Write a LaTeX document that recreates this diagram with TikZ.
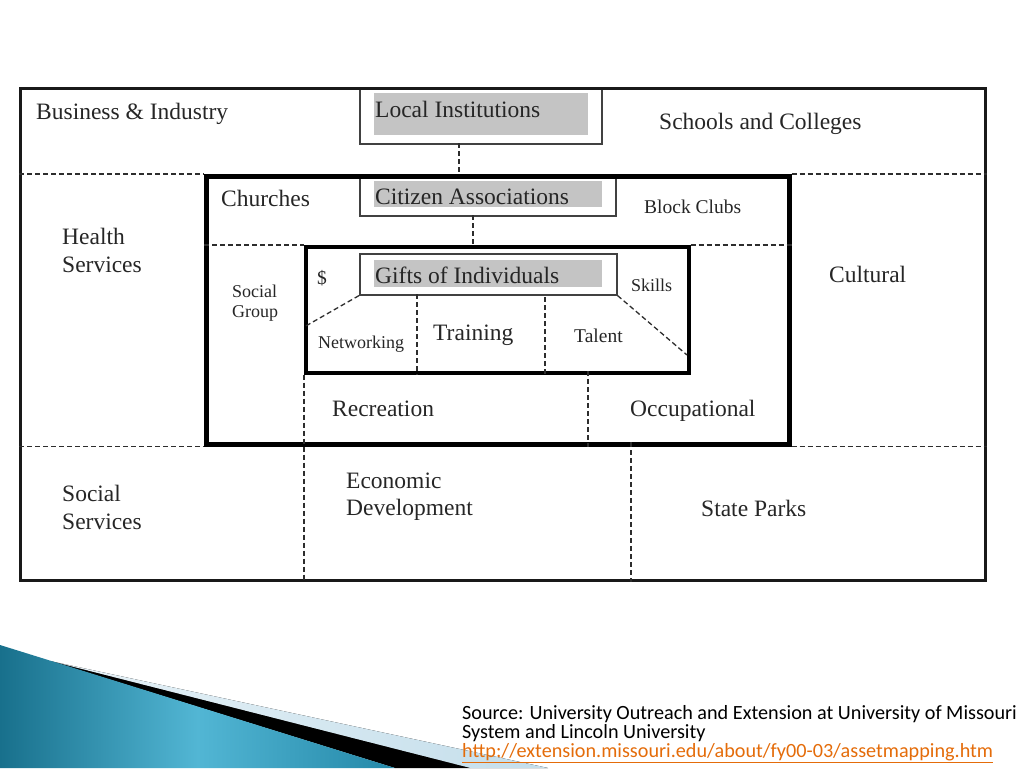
\documentclass[tikz,border=0pt]{standalone}
\usepackage{fontspec}
\setmainfont{Liberation Serif}
\newfontfamily\srcfont{Carlito}
\usepackage{tikz}
\usepackage{xcolor}
\usetikzlibrary{positioning}
\definecolor{halftone}{RGB}{196,196,196}
\definecolor{boxgray}{RGB}{65,65,65}
\definecolor{dashgray}{RGB}{45,45,45}
\definecolor{tealdark}{RGB}{24,112,140}
\definecolor{teallight}{RGB}{82,182,212}
\definecolor{tealmid}{RGB}{36,136,168}
\definecolor{paleblue}{RGB}{196,222,235}
\definecolor{linkorange}{RGB}{228,108,10}

\begin{document}
\begin{tikzpicture}[x=1pt, y=-1pt,
    outerbox/.style={rectangle, draw=black!90, line width=2.5pt, inner sep=0pt, anchor=north west},
    ringbox/.style={rectangle, draw=black, line width=4.5pt, inner sep=0pt, anchor=north west},
    corebox/.style={rectangle, draw=black, line width=3.5pt, inner sep=0pt, anchor=north west},
    labelbox/.style={rectangle, draw=boxgray, fill=white, line width=1.6pt, inner sep=0pt, anchor=north west},
    shadefill/.style={rectangle, fill=halftone, inner sep=0pt, anchor=north west},
    bigtxt/.style={font=\fontsize{23.5}{26}\selectfont, inner sep=0pt, anchor=base west, text=black!85},
    midtxt/.style={font=\fontsize{19.5}{22}\selectfont, inner sep=0pt, anchor=base west, text=black!85},
    smalltxt/.style={font=\fontsize{18}{20}\selectfont, inner sep=0pt, anchor=base west, text=black!85},
    srctxt/.style={font=\srcfont\fontsize{20.2}{19}\selectfont, inner sep=0pt, anchor=base west},
    dashline/.style={draw=dashgray, line width=1.3pt, dash pattern=on 5pt off 3pt}
]
\useasboundingbox (0,0) rectangle (1024,768);

% ========== DECORACION ==========
\fill[left color=paleblue!40, right color=paleblue] (50,661) -- (548,768) -- (470,768) -- cycle;
\fill[black] (50,661) -- (470,768) -- (395,768) -- cycle;
\shade[left color=tealdark, right color=tealmid, middle color=teallight] (0,645) -- (395,768) -- (0,768) -- cycle;

% ========== CAJAS ==========
\node[labelbox, minimum width=242, minimum height=56] (locinst) at (359,87) {};
\node[shadefill, minimum width=214, minimum height=42] (locfill) at (374,93) {};
\node[labelbox, minimum width=256, minimum height=41] (citizen) at (359,174) {};
\node[shadefill, minimum width=228, minimum height=26] (citfill) at (374,181) {};
\node[labelbox, minimum width=257, minimum height=41] (gifts) at (359,253) {};
\node[shadefill, minimum width=228, minimum height=27] (giftfill) at (374,260) {};

\node[outerbox, minimum width=965, minimum height=492] (frame) at (19,87) {};
\node[ringbox, minimum width=583, minimum height=268] (civic) at (204,174) {};
\node[corebox, minimum width=383, minimum height=126] (core) at (304,245) {};

% ========== LINEAS DISCONTINUAS ==========
\coordinate (li-tap) at (459,143);
\coordinate (ca-tap) at (473,215);
\coordinate (net-end) at (304,327);
\coordinate (skill-end) at (687,355);
\coordinate (train-tap) at (417,294);
\coordinate (talent-tap) at (545,297);
\coordinate (occ-tap) at (588,371);
\coordinate (park-tap) at (631,442);

\draw[dashline] (li-tap) -- (li-tap |- civic.north);
\draw[dashline] (ca-tap) -- (ca-tap |- core.north);
\draw[dashline] (frame.west |- civic.north) -- (civic.north west);
\draw[dashline] (civic.north east) -- (frame.east |- civic.north);
\draw[dashline] (frame.west |- civic.south) -- (civic.south west);
\draw[dashline] (civic.south east) -- (frame.east |- civic.south);
\draw[dashline] (civic.west |- core.north) -- (core.north west);
\draw[dashline] (core.north east) -- (civic.east |- core.north);
\draw[dashline] (gifts.south west) -- (net-end);
\draw[dashline] (gifts.south east) -- (skill-end);
\draw[dashline] (train-tap) -- (train-tap |- core.south);
\draw[dashline] (talent-tap) -- (talent-tap |- core.south);
\draw[dashline] (core.south west) -- (core.south west |- frame.south);
\draw[dashline] (occ-tap) -- (occ-tap |- civic.south);
\draw[dashline] (park-tap) -- (park-tap |- frame.south);

% ========== TEXTOS ==========
\node[bigtxt] (business) at (36,119) {Business \& Industry};
\node[bigtxt] (locinsttxt) at (375,117) {Local Institutions};
\node[bigtxt] (schools) at (659,129) {Schools and Colleges};
\node[bigtxt] (churches) at (221,206) {Churches};
\node[bigtxt] (citizentxt) at (375,204) {Citizen Associations};
\node[midtxt] (blockclubs) at (644,213) {Block Clubs};
\node[bigtxt] (health) at (62,244) {Health};
\node[bigtxt] (healthb) at (62,272) {Services};
\node[bigtxt] (cultural) at (829,282) {Cultural};
\node[midtxt] (money) at (317,284) {\$};
\node[bigtxt] (giftstxt) at (375,283) {Gifts of Individuals};
\node[smalltxt] (skills) at (631,291) {Skills};
\node[smalltxt] (social) at (232,297) {Social};
\node[smalltxt] (socialb) at (232,317) {Group};
\node[smalltxt] (networking) at (318,348) {Networking};
\node[bigtxt] (training) at (433,340) {Training};
\node[midtxt] (talent) at (574,342) {Talent};
\node[bigtxt] (recreation) at (332,416) {Recreation};
\node[bigtxt] (occupational) at (630,416) {Occupational};
\node[bigtxt] (economic) at (346,488) {Economic};
\node[bigtxt] (economicb) at (346,515) {Development};
\node[bigtxt] (socserv) at (62,501) {Social};
\node[bigtxt] (socservb) at (62,529) {Services};
\node[bigtxt] (parks) at (701,516) {State Parks};

% ========== FUENTE ==========
\node[srctxt] (source) at (462,719) {Source: University Outreach and Extension at University of Missouri};
\node[srctxt] (sourceb) at (462,738) {System and Lincoln University};
\node[srctxt, text=linkorange] (sourcec) at (462,757) {\underline{http://extension.missouri.edu/about/fy00-03/assetmapping.htm}};

\end{tikzpicture}
\end{document}
